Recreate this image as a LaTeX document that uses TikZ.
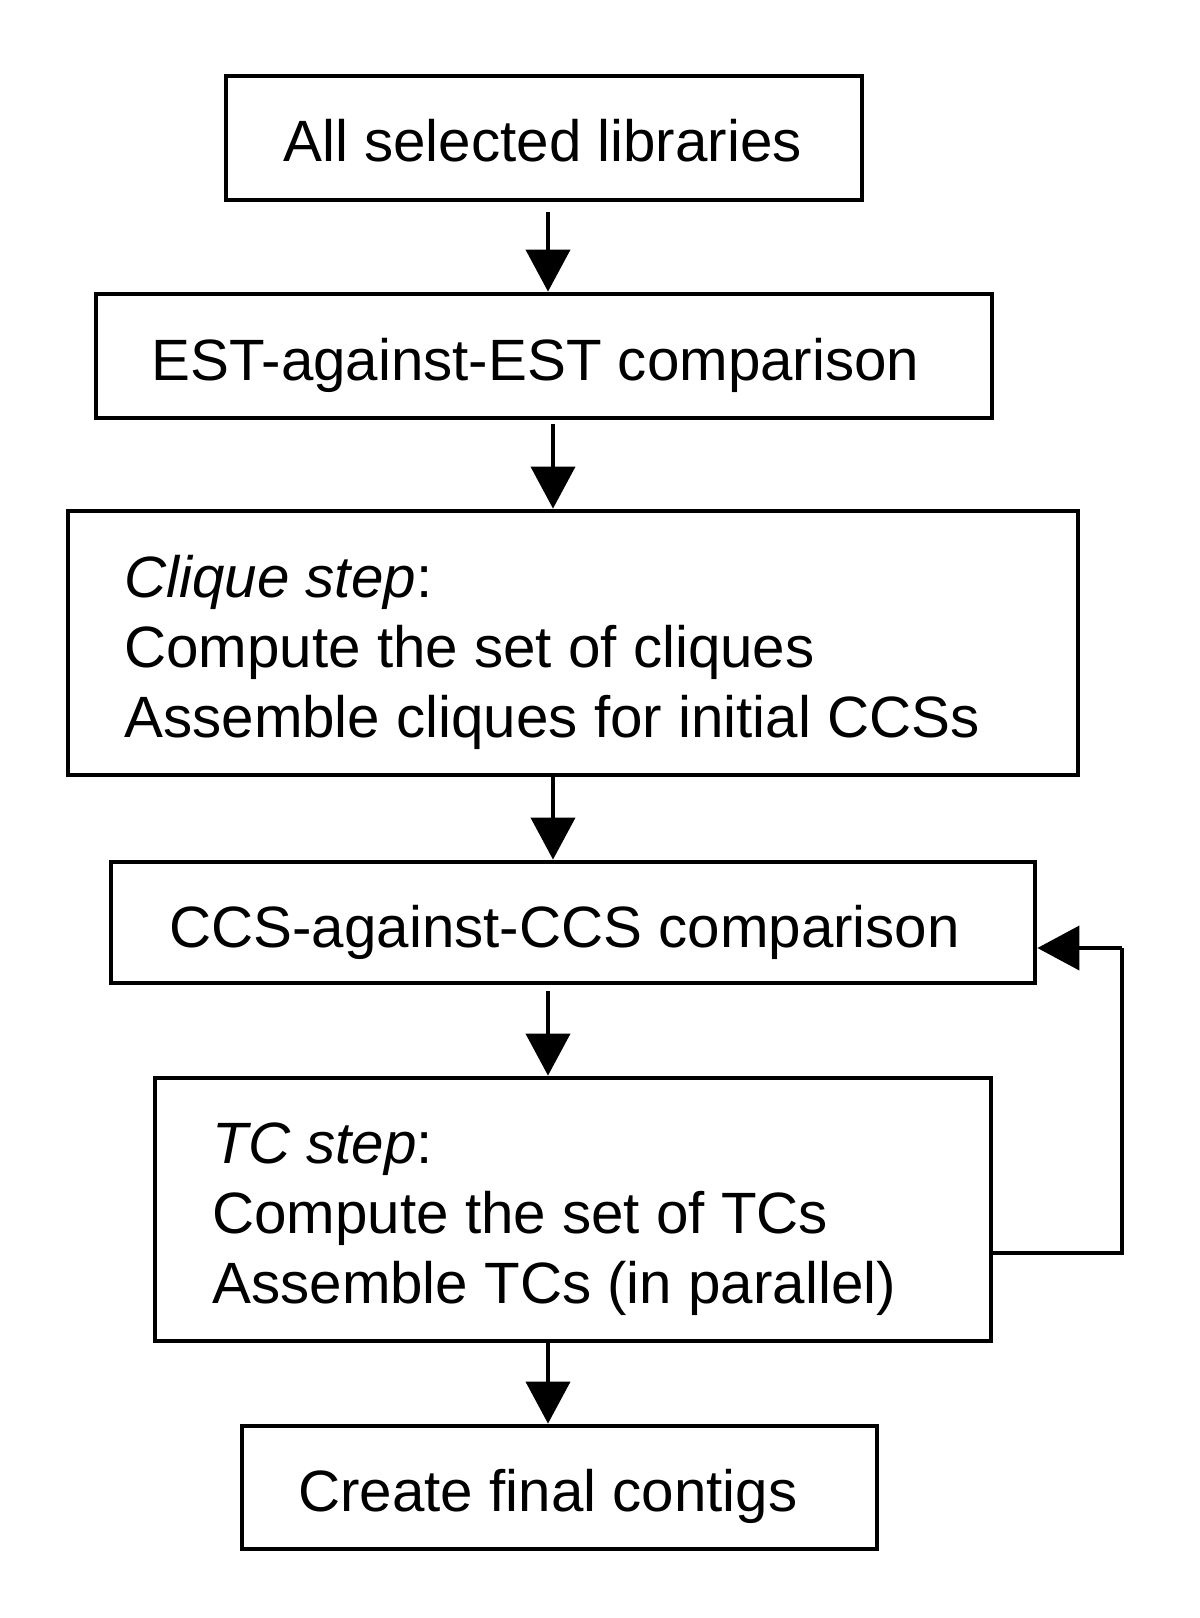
\documentclass[tikz,border=0pt]{standalone}
\usepackage{fontspec}
\setmainfont{Liberation Sans}
\usetikzlibrary{arrows.meta}
\begin{document}
\begin{tikzpicture}[x=0.5pt,y=-0.5pt,
  box/.style={draw,line width=2.4pt,rectangle,inner sep=0pt},
  lbl/.style={anchor=base west,inner sep=0pt,font=\fontsize{29.15pt}{35pt}\selectfont},
  arr/.style={line width=2pt,-{Triangle[length=21pt,width=22pt]}},
  fbline/.style={line width=2pt}]
\useasboundingbox (0,0) rectangle (1200,1618);
% boxes
\node[box,minimum width=318pt,minimum height=62pt] (b1) at (544,138) {};
\node[box,minimum width=448pt,minimum height=62pt] (b2) at (544,356) {};
\node[box,minimum width=505pt,minimum height=132pt] (b3) at (573,643) {};
\node[box,minimum width=462pt,minimum height=60.5pt] (b4) at (573,922.5) {};
\node[box,minimum width=418pt,minimum height=131.5pt] (b5) at (573,1209.5) {};
\node[box,minimum width=317.5pt,minimum height=61.5pt] (b6) at (559.5,1487.5) {};
% texts
\node[lbl] (t1) at (283,161) {All selected libraries};
\node[lbl] (t2) at (151,380) {EST-against-EST comparison};
\node[lbl] (t3a) at (124,597) {\textit{Clique step}:};
\node[lbl] (t3b) at (124,667) {Compute the set of cliques};
\node[lbl] (t3c) at (124,737) {Assemble cliques for initial CCSs};
\node[lbl] (t4) at (169,947) {CCS-against-CCS comparison};
\node[lbl] (t5a) at (212,1163) {\textit{TC step}:};
\node[lbl] (t5b) at (212,1233) {Compute the set of TCs};
\node[lbl] (t5c) at (212,1303) {Assemble TCs (in parallel)};
\node[lbl] (t6) at (298,1511) {Create final contigs};
% arrow columns
\coordinate (xa) at (548,0);
\coordinate (xb) at (553,0);
\draw[arr,shorten <=5pt] (b1.south -| xa) -- (b2.north -| xa);
\draw[arr,shorten <=2pt] (b2.south -| xb) -- (b3.north -| xb);
\draw[arr] (b3.south -| xb) -- (b4.north -| xb);
\draw[arr,shorten <=3pt] (b4.south -| xa) -- (b5.north -| xa);
\draw[arr] (b5.south -| xa) -- (b6.north -| xa);
% feedback loop
\coordinate (fy1) at (0,1253);
\coordinate (fy2) at (0,948);
\coordinate (fx) at (1122,0);
\draw[fbline] (b5.east |- fy1) -- (fx |- fy1) -- (fx |- fy2);
\draw[arr] (fx |- fy2) -- (b4.east |- fy2);
\end{tikzpicture}
\end{document}
